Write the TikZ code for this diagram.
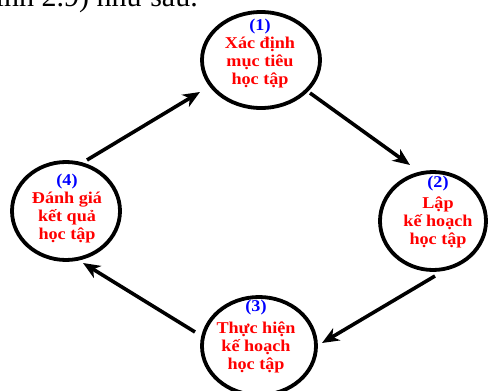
\documentclass[tikz,border=0pt]{standalone}
\usepackage{fontspec}
\setmainfont{Liberation Serif}
\newfontfamily\lblfont[FakeStretch=1.1]{Liberation Serif}
\usetikzlibrary{shapes.geometric,arrows.meta,calc}
\begin{document}
\begin{tikzpicture}[x=1pt,y=-1pt,
  ring/.style={ellipse, draw, line width=3.8pt, inner sep=0pt},
  lbl/.style={align=center, font=\lblfont\fontsize{16.5}{18}\selectfont\bfseries, text=red, inner sep=0pt},
  arr/.style={line width=3.6pt, -{Stealth[length=17pt,width=14pt,inset=5pt]}}]
\useasboundingbox (0,0) rectangle (488,391);
\clip (0,0) rectangle (488,391);
% cropped line of running text at the top
\node[anchor=base east, inner sep=0pt, font=\fontsize{30}{32}\selectfont] (top) at (198,6) {(Hình 2.9) như sau.};
% rings
\node[ring, minimum width=118pt, minimum height=96pt] (c1) at (261,60) {};
\node[ring, minimum width=106pt, minimum height=98pt] (c2) at (433,221) {};
\node[ring, minimum width=114pt, minimum height=98pt] (c3) at (259,346) {};
\node[ring, minimum width=108pt, minimum height=98pt] (c4) at (66,211) {};
% labels
\node[lbl] (t1) at ($(c1)+(-1,-6)$) {\textcolor{blue}{(1)}\\Xác định\\mục tiêu\\học tập};
\node[lbl] (t2) at ($(c2)+(5,-9)$) {\textcolor{blue}{(2)}\\[3pt]Lập\\kế hoạch\\học tập};
\node[lbl] (t3) at ($(c3)+(-3,-9)$) {\textcolor{blue}{(3)}\\[4pt]Thực hiện\\kế hoạch\\học tập};
\node[lbl] (t4) at ($(c4)+(1,-2)$) {\textcolor{blue}{(4)}\\Đánh giá\\kết quả\\học tập};
% arrows
\draw[arr] ($(c1)+(49,33)$) -- ($(c2)+(-23,-56)$);
\draw[arr] ($(c2)+(2,55)$) -- ($(c3)+(63,-3)$);
\draw[arr] ($(c3)+(-64,-14)$) -- ($(c4)+(17,52)$);
\draw[arr] ($(c4)+(21,-51)$) -- ($(c1)+(-61,32)$);
\end{tikzpicture}
\end{document}
